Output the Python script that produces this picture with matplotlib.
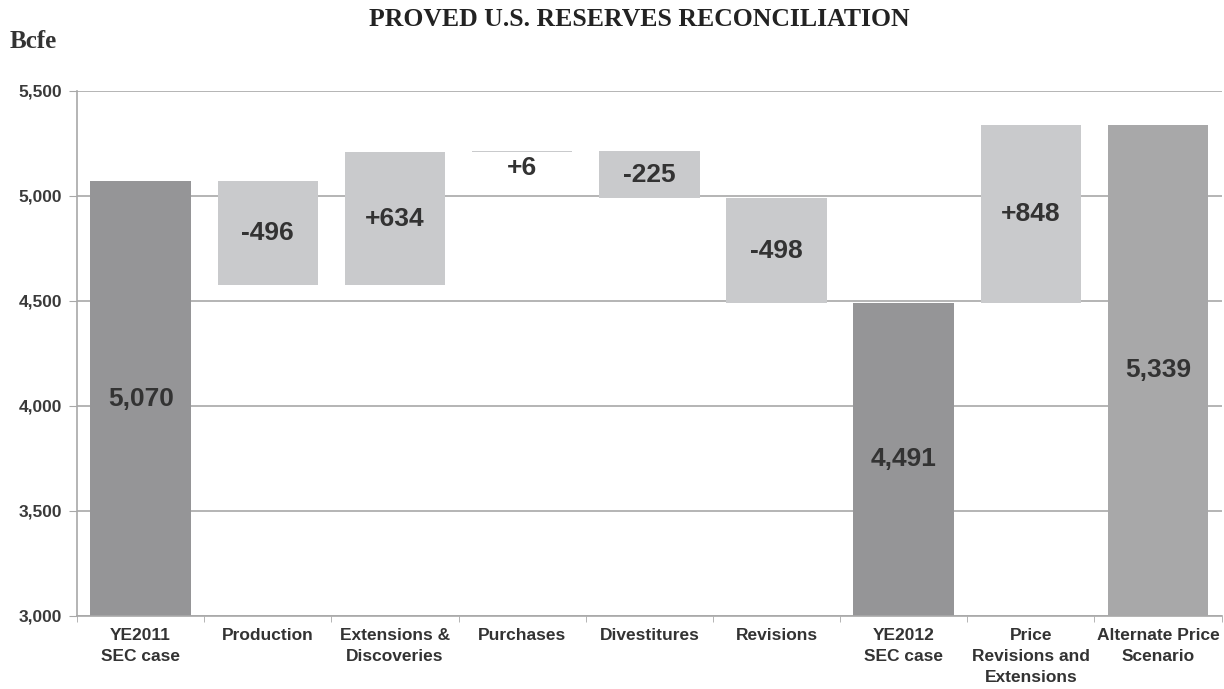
import numpy as np
import matplotlib.pyplot as plt

# data (Bcfe)
categories = ['YE2011\nSEC case', 'Production', 'Extensions &\nDiscoveries',
              'Purchases', 'Divestitures', 'Revisions', 'YE2012\nSEC case',
              'Price\nRevisions and\nExtensions', 'Alternate Price\nScenario']
values = [5070, -496, 634, 6, -225, -498, 4491, 848, 5339]
kinds = ['total', 'delta', 'delta', 'delta', 'delta', 'delta', 'total', 'delta', 'alt']
labels = ['5,070', '-496', '+634', '+6', '-225', '-498', '4,491', '+848', '5,339']

colors = {'total': '#959597', 'delta': '#c9cacc', 'alt': '#a8a8a9'}
text_col = '#333333'
sans = 'Liberation Sans'
serif = 'Liberation Serif'

# running totals for the floating bars
bottoms = []
heights = []
level = 0
for v, k in zip(values, kinds):
    if k == 'delta':
        bottoms.append(min(level, level + v))
        heights.append(abs(v))
        level += v
    else:
        bottoms.append(0)
        heights.append(v)
        level = v

fig = plt.figure(figsize=(12.24, 6.89), dpi=100)
ax = fig.add_axes([0.063, 0.106, 0.935, 0.762])
x = np.arange(len(categories))
ymin, ymax = 3000, 5500

ax.set_ylim(ymin, ymax)
ax.set_xlim(-0.5, len(categories) - 0.5)
ax.set_yticks(np.arange(3000, 5501, 500))
ax.yaxis.grid(True, color='#a8a8a8', linewidth=1.2)
ax.set_axisbelow(True)

ax.bar(x, heights, bottom=bottoms, width=0.79,
       color=[colors[k] for k in kinds], zorder=2)

for i, (b, h, lab) in enumerate(zip(bottoms, heights, labels)):
    if lab == '+6':
        ax.text(i, b - 18, lab, ha='center', va='top', fontsize=19,
                fontweight='bold', family=sans, color=text_col, zorder=3)
        continue
    lo = max(b, ymin)
    ax.text(i, (lo + b + h) / 2, lab, ha='center', va='center', fontsize=19,
            fontweight='bold', family=sans, color=text_col, zorder=3)

ax.set_yticklabels(['{:,}'.format(t) for t in range(3000, 5501, 500)],
                   fontsize=12.5, fontweight='bold', family=sans, color='#3a3a3a')
ax.set_xticks(x)
ax.set_xticklabels(categories, fontsize=12.5, fontweight='bold', family=sans,
                   color=text_col, linespacing=1.5)
ax.tick_params(axis='x', length=0, pad=9)
ax.tick_params(axis='y', length=6, color='#a8a8a8', pad=5)
# small ticks between categories on the bottom axis
ax.set_xticks(np.arange(-0.5, len(categories) - 0.4, 1), minor=True)
ax.tick_params(axis='x', which='minor', length=4, color='#a8a8a8')

for s in ['top', 'right']:
    ax.spines[s].set_visible(False)
ax.spines['left'].set_color('#a8a8a8')
ax.spines['bottom'].set_color('#a8a8a8')
ax.spines['left'].set_linewidth(1.2)
ax.spines['bottom'].set_linewidth(1.2)

fig.text(0.522, 0.972, 'PROVED U.S. RESERVES RECONCILIATION', ha='center', va='center',
         fontsize=18.5, fontweight='bold', family=serif, color='#222222')
fig.text(0.008, 0.940, 'Bcfe', ha='left', va='center', fontsize=18,
         fontweight='bold', family=serif, color='#333333')

fig.savefig('out.png', dpi=100)
